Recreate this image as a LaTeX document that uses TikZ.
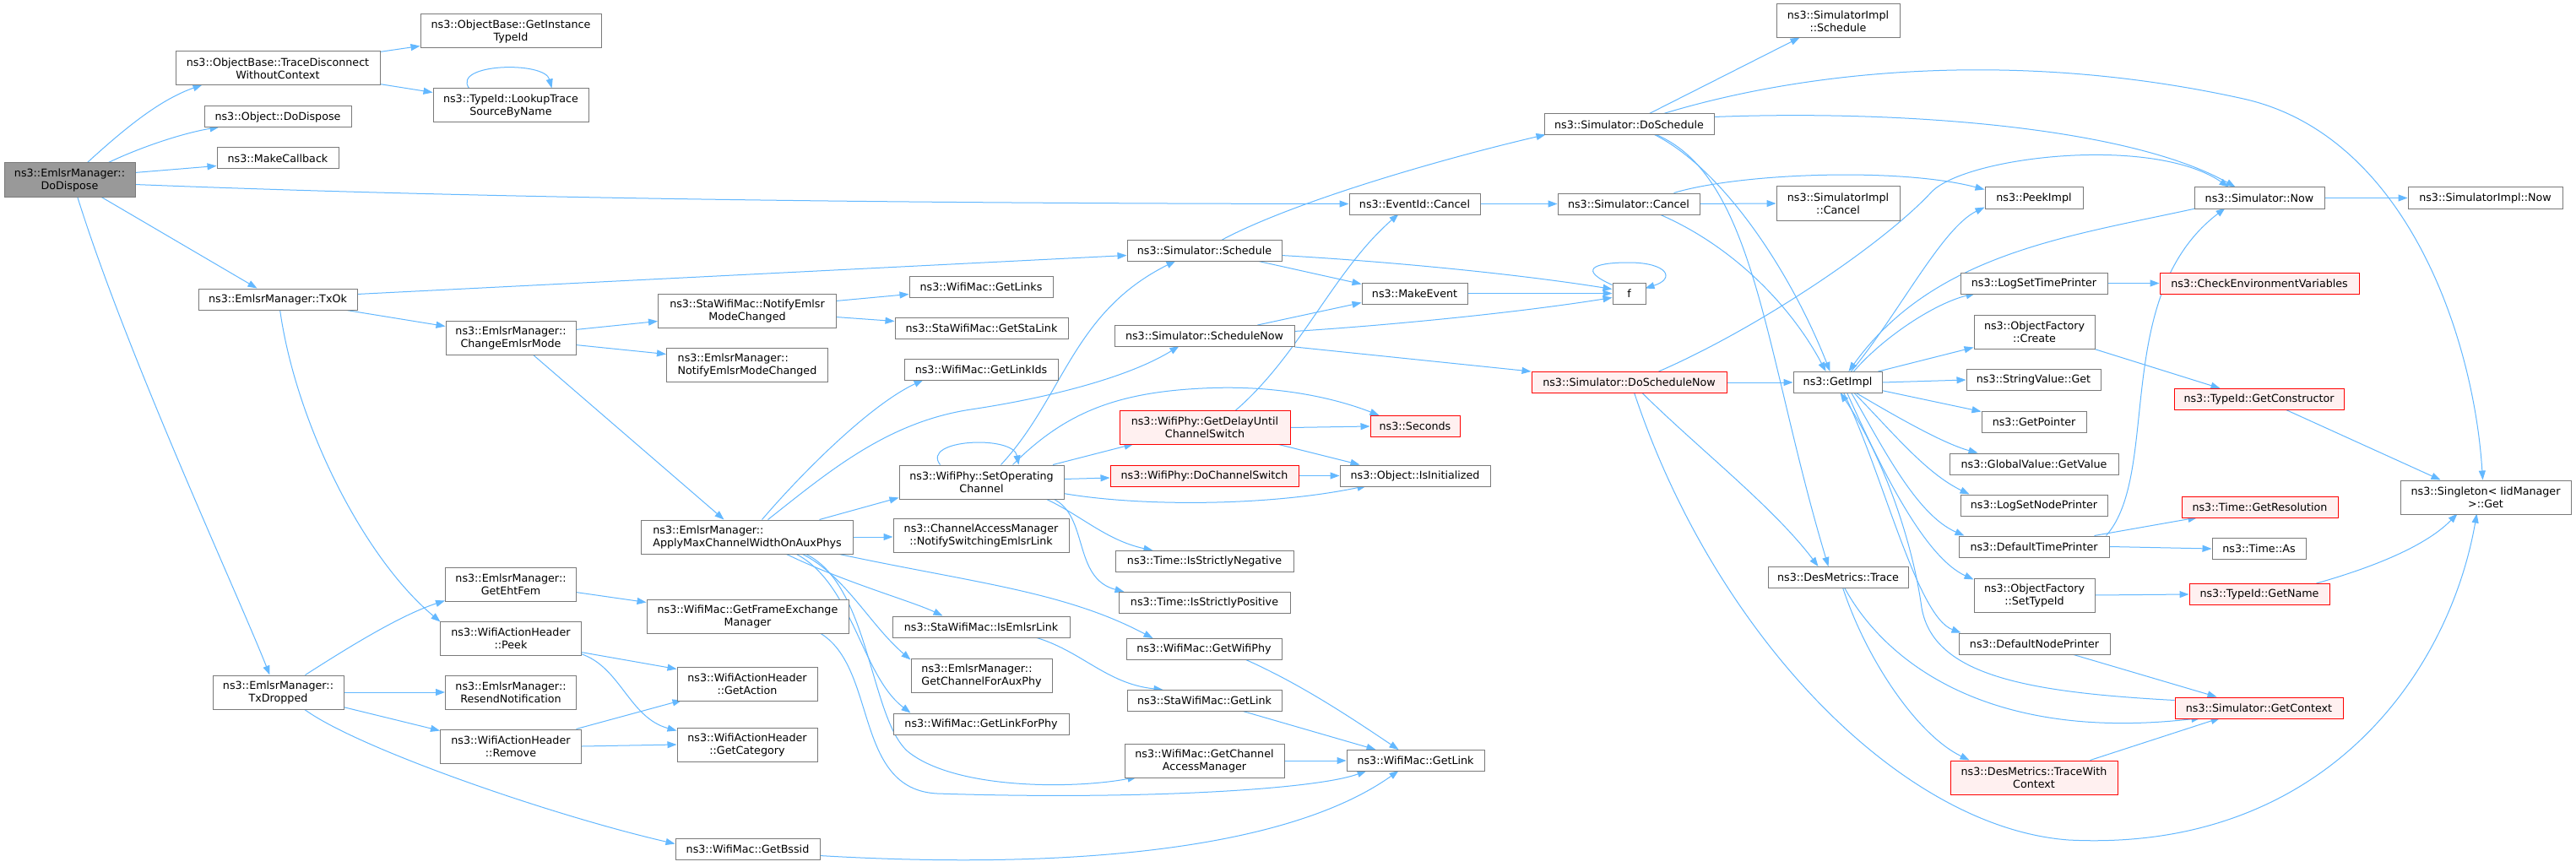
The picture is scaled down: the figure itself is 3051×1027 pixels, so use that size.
\documentclass[tikz,border=0pt]{standalone}
\usepackage{fontspec}
\setmainfont{DejaVu Sans}
\usetikzlibrary{arrows.meta,calc}
\definecolor{edgec}{HTML}{63B8FF}
\definecolor{bordc}{HTML}{7A7A7A}
\definecolor{redfill}{HTML}{FFF0F0}
\definecolor{grayfill}{HTML}{999999}
\pgfdeclarelayer{bg}
\pgfsetlayers{bg,main}
\begin{document}
\begin{tikzpicture}[x=1pt,y=-1pt,
  nb/.style={draw=bordc, line width=1pt, fill=white, inner sep=0pt, font=\fontsize{12.7}{15}\selectfont, align=center},
  nr/.style={nb, draw=red, fill=redfill},
  ng/.style={nb, fill=grayfill},
  wh/.style 2 args={minimum width=#1pt, minimum height=#2pt},
  e/.style={draw=edgec, line width=1pt, -{Triangle[length=11pt,width=8pt]}}]
\useasboundingbox (0,0) rectangle (3051,1027);
% column 0
\node[ng,wh={155}{40}] (dd) at (82.5,213) {ns3::EmlsrManager::\\DoDispose};
% column 1
\node[nb,wh={242}{40}] (tdw) at (329,81) {ns3::ObjectBase::TraceDisconnect\\WithoutContext};
\node[nb,wh={174}{25}] (odd) at (329,138.5) {ns3::Object::DoDispose};
\node[nb,wh={144}{25}] (mcb) at (329,187.5) {ns3::MakeCallback};
\node[nb,wh={188}{25}] (txok) at (329,354.5) {ns3::EmlsrManager::TxOk};
\node[nb,wh={155}{40}] (txd) at (329.5,820) {ns3::EmlsrManager::\\TxDropped};
% column 2
\node[nb,wh={214}{40}] (git) at (605,37) {ns3::ObjectBase::GetInstance\\TypeId};
\node[nb,wh={184}{40}] (ltn) at (605,125) {ns3::TypeId::LookupTrace\\SourceByName};
\node[nb,wh={154}{40}] (cem) at (605,400) {ns3::EmlsrManager::\\ChangeEmlsrMode};
\node[nb,wh={155}{40}] (geh) at (605,692) {ns3::EmlsrManager::\\GetEhtFem};
\node[nb,wh={167}{40}] (peek) at (605,756) {ns3::WifiActionHeader\\::Peek};
\node[nb,wh={155}{40}] (rsn) at (605,820) {ns3::EmlsrManager::\\ResendNotification};
\node[nb,wh={167}{40}] (rem) at (605,884) {ns3::WifiActionHeader\\::Remove};
% column 3
\node[nb,wh={211}{40}] (snm) at (885,368) {ns3::StaWifiMac::NotifyEmlsr\\ModeChanged};
\node[nb,wh={191}{40},align=left] (enm) at (885,432) {ns3::EmlsrManager::\\NotifyEmlsrModeChanged};
\node[nb,wh={251}{40},align=left] (amc) at (885,636) {ns3::EmlsrManager::\\ApplyMaxChannelWidthOnAuxPhys};
\node[nb,wh={239}{40}] (gfx) at (885.5,730) {ns3::WifiMac::GetFrameExchange\\Manager};
\node[nb,wh={166}{40}] (gac) at (885,810) {ns3::WifiActionHeader\\::GetAction};
\node[nb,wh={166}{40}] (gcat) at (885,882) {ns3::WifiActionHeader\\::GetCategory};
\node[nb,wh={171}{25}] (gbs) at (885.5,1005.5) {ns3::WifiMac::GetBssid};
% column 4
\node[nb,wh={170}{25}] (gls) at (1162,339.5) {ns3::WifiMac::GetLinks};
\node[nb,wh={205}{25}] (gsl) at (1162.5,389) {ns3::StaWifiMac::GetStaLink};
\node[nb,wh={182}{25}] (gli) at (1162,438) {ns3::WifiMac::GetLinkIds};
\node[nb,wh={195}{40}] (soc) at (1162.5,571) {ns3::WifiPhy::SetOperating\\Channel};
\node[nb,wh={208}{40}] (nse) at (1162,634.5) {ns3::ChannelAccessManager\\::NotifySwitchingEmlsrLink};
\node[nb,wh={210}{25}] (iel) at (1162,742.5) {ns3::StaWifiMac::IsEmlsrLink};
\node[nb,wh={167}{40},align=left] (gca) at (1162.5,800) {ns3::EmlsrManager::\\GetChannelForAuxPhy};
\node[nb,wh={208}{25}] (glp) at (1162,857.5) {ns3::WifiMac::GetLinkForPhy};
% column 5
\node[nb,wh={183}{25}] (ssch) at (1426.5,297) {ns3::Simulator::Schedule};
\node[nb,wh={213}{25}] (ssn) at (1426.5,398) {ns3::Simulator::ScheduleNow};
\node[nr,wh={202}{40}] (gdc) at (1427,506.5) {ns3::WifiPhy::GetDelayUntil\\ChannelSwitch};
\node[nr,wh={223}{25}] (dcs) at (1426.5,563.5) {ns3::WifiPhy::DoChannelSwitch};
\node[nb,wh={211}{25}] (isn) at (1426.5,665) {ns3::Time::IsStrictlyNegative};
\node[nb,wh={203}{25}] (isp) at (1426.5,714) {ns3::Time::IsStrictlyPositive};
\node[nb,wh={184}{25}] (gwp) at (1426,769) {ns3::WifiMac::GetWifiPhy};
\node[nb,wh={183}{25}] (sgl) at (1426.5,830) {ns3::StaWifiMac::GetLink};
\node[nb,wh={189}{40}] (gcm) at (1426.5,901) {ns3::WifiMac::GetChannel\\AccessManager};
% column 6
\node[nb,wh={155}{25}] (eic) at (1675.5,241.5) {ns3::EventId::Cancel};
\node[nb,wh={125}{25}] (mev) at (1675.5,347.5) {ns3::MakeEvent};
\node[nr,wh={106}{25}] (sec) at (1676,505) {ns3::Seconds};
\node[nb,wh={178}{25}] (oii) at (1676,563.5) {ns3::Object::IsInitialized};
\node[nb,wh={163}{25}] (wgl) at (1676.5,901) {ns3::WifiMac::GetLink};
% column 7
\node[nb,wh={201}{25}] (dsc) at (1929.5,147.5) {ns3::Simulator::DoSchedule};
\node[nb,wh={168}{25}] (scn) at (1929,241.5) {ns3::Simulator::Cancel};
\node[nb,wh={39}{25}] (ff) at (1929.5,347.5) {f};
\node[nr,wh={231}{25}] (dsn) at (1929.5,453) {ns3::Simulator::DoScheduleNow};
% column 8
\node[nb,wh={146}{40}] (sis) at (2177,25) {ns3::SimulatorImpl\\::Schedule};
\node[nb,wh={146}{40}] (sic) at (2177,241) {ns3::SimulatorImpl\\::Cancel};
\node[nb,wh={105}{25}] (gim) at (2176.5,453) {ns3::GetImpl};
\node[nb,wh={166}{25}] (dmt) at (2177,684) {ns3::DesMetrics::Trace};
% column 9
\node[nb,wh={116}{25}] (pki) at (2409,234.5) {ns3::PeekImpl};
\node[nb,wh={174}{25}] (lst) at (2409,335.5) {ns3::LogSetTimePrinter};
\node[nb,wh={143}{40}] (ofc) at (2409.5,393) {ns3::ObjectFactory\\::Create};
\node[nb,wh={159}{25}] (svg) at (2408.5,450) {ns3::StringValue::Get};
\node[nb,wh={124}{25}] (gpt) at (2409,499.5) {ns3::GetPointer};
\node[nb,wh={200}{25}] (ggv) at (2409,549.5) {ns3::GlobalValue::GetValue};
\node[nb,wh={174}{25}] (lsn) at (2409,598.5) {ns3::LogSetNodePrinter};
\node[nb,wh={178}{25}] (dtp) at (2409,647.5) {ns3::DefaultTimePrinter};
\node[nb,wh={143}{40}] (ost) at (2409.5,705) {ns3::ObjectFactory\\::SetTypeId};
\node[nb,wh={179}{25}] (dnp) at (2409.5,762.5) {ns3::DefaultNodePrinter};
\node[nr,wh={198}{40}] (twc) at (2409,921) {ns3::DesMetrics::TraceWith\\Context};
% column 10
\node[nb,wh={154}{25}] (snw) at (2676,234.5) {ns3::Simulator::Now};
\node[nr,wh={236}{25}] (cev) at (2676,335.5) {ns3::CheckEnvironmentVariables};
\node[nr,wh={201}{25}] (gcn) at (2675.5,473) {ns3::TypeId::GetConstructor};
\node[nr,wh={185}{25}] (grs) at (2676.5,601) {ns3::Time::GetResolution};
\node[nb,wh={111}{25}] (tas) at (2675.5,650) {ns3::Time::As};
\node[nr,wh={166}{25}] (gnm) at (2676,704) {ns3::TypeId::GetName};
\node[nr,wh={199}{25}] (gctx) at (2675.5,838.5) {ns3::Simulator::GetContext};
% column 11
\node[nb,wh={183}{25}] (sin) at (2943.5,234.5) {ns3::SimulatorImpl::Now};
\node[nb,wh={202}{40}] (sgt) at (2944,589) {ns3::Singleton< IidManager\\>::Get};

\begin{pgfonlayer}{bg}
\fill[white] (0,0) rectangle (3051,1027);
\draw[e] ($(dd.north west)+(99,0)$) .. controls (150,150) and (190,118) .. ($(tdw.north west)+(32,40)$);
\draw[e] ($(dd.north west)+(124,0)$) .. controls (165,175) and (215,158) .. ($(odd.north west)+(18,25)$);
\draw[e] ($(dd.north west)+(155,12)$) -- ($(mcb.north west)+(0,22)$);
\draw[e] ($(dd.north west)+(155,26)$) .. controls (600,236) and (1100,241) .. (eic.west);
\draw[e] ($(dd.north west)+(114,40)$) -- ($(txok.north west)+(70,0)$);
\draw[e] ($(dd.north west)+(87,40)$) .. controls (150,420) and (280,700) .. ($(txd.north west)+(68,0)$);
\draw[e] ($(tdw.north west)+(242,1)$) -- ($(git.north west)+(0,38)$);
\draw[e] ($(tdw.north west)+(242,39)$) -- ($(ltn.north west)+(0,5)$);
\draw[e] ($(ltn.north west)+(43,0)$) .. controls (535,75) and (645,72) .. ($(ltn.north west)+(141,0)$);
\draw[e] ($(txok.north west)+(188,7)$) -- ($(ssch.north west)+(0,18.5)$);
\draw[e] ($(txok.north west)+(170,25)$) -- ($(cem.north west)+(0,7)$);
\draw[e] ($(txok.north west)+(97,25)$) .. controls (350,500) and (430,660) .. ($(peek.north west)+(0.5,1)$);
\draw[e] ($(txd.north west)+(110,0)$) .. controls (400,775) and (470,730) .. ($(geh.north west)+(0,40)$);
\draw[e] (txd.east) -- (rsn.west);
\draw[e] ($(txd.north west)+(155,38)$) -- ($(rem.north west)+(0,2)$);
\draw[e] ($(txd.north west)+(108,40)$) .. controls (420,885) and (650,965) .. ($(gbs.north west)+(0,7)$);
\draw[e] ($(cem.north west)+(154,11)$) -- ($(snm.north west)+(0,33)$);
\draw[e] ($(cem.north west)+(154,29)$) -- ($(enm.north west)+(0,8)$);
\draw[e] ($(cem.north west)+(103,40)$) -- ($(amc.north west)+(98.5,0)$);
\draw[e] ($(snm.north west)+(211,9)$) -- ($(gls.north west)+(0,22)$);
\draw[e] ($(snm.north west)+(211,28)$) -- ($(gsl.north west)+(0,4.5)$);
\draw[e] ($(geh.north west)+(155,30)$) -- ($(gfx.north west)+(0,4)$);
\draw[e] ($(peek.north west)+(167,37)$) -- ($(gac.north west)+(0,3)$);
\draw[e] ($(peek.north west)+(167,39)$) .. controls (735,790) and (745,850) .. ($(gcat.north west)+(0,4)$);
\draw[e] ($(rem.north west)+(161.5,0)$) -- ($(gac.north west)+(6,40)$);
\draw[e] (rem.east) -- (gcat.west);
\draw[e] ($(gfx.north west)+(205,40)$) .. controls (1040,790) and (1010,935) .. (1110,940) .. controls (1350,948) and (1560,935) .. ($(wgl.north west)+(24,25)$);
\draw[e] ($(amc.north west)+(193.5,40)$) .. controls (1030,690) and (1030,850) .. (1075,890) .. controls (1130,935) and (1270,935) .. ($(gcm.north west)+(15,40)$);
\draw[e] ($(amc.north west)+(143.5,0)$) .. controls (950,560) and (1030,480) .. ($(gli.north west)+(23,25)$);
\draw[e] ($(amc.north west)+(150.5,0)$) .. controls (980,560) and (1050,500) .. (1150,485) .. controls (1250,470) and (1340,445) .. ($(ssn.north west)+(77,25)$);
\draw[e] ($(amc.north west)+(211.5,0)$) -- ($(soc.north west)+(0,39)$);
\draw[e] (amc.east) -- (amc.east -| nse.west);
\draw[e] ($(amc.north west)+(230.5,40)$) .. controls (1150,690) and (1260,700) .. ($(gwp.north west)+(32,0)$);
\draw[e] ($(amc.north west)+(170.5,40)$) .. controls (1000,690) and (1080,712) .. ($(iel.north west)+(60,0)$);
\draw[e] ($(amc.north west)+(189.5,40)$) .. controls (1000,680) and (1030,740) .. ($(gca.north west)+(0,2)$);
\draw[e] ($(amc.north west)+(182.5,40)$) .. controls (1010,690) and (1020,800) .. ($(glp.north west)+(21,0)$);
\draw[e] ($(soc.north west)+(49,0)$) .. controls (1090,520) and (1200,515) .. ($(soc.north west)+(142,0)$);
\draw[e] ($(soc.north west)+(121,0)$) .. controls (1260,470) and (1270,370) .. ($(ssch.north west)+(58,25)$);
\draw[e] ($(soc.north west)+(135,0)$) .. controls (1260,490) and (1320,465) .. (1424,460) .. controls (1520,455) and (1590,475) .. ($(sec.north west)+(11,0)$);
\draw[e] ($(soc.north west)+(182.5,0)$) -- ($(gdc.north west)+(17,40)$);
\draw[e] ($(soc.north west)+(195,17)$) -- ($(dcs.north west)+(0,15.5)$);
\draw[e] ($(soc.north west)+(195,34)$) .. controls (1350,600) and (1500,600) .. ($(oii.north west)+(32,25)$);
\draw[e] ($(soc.north west)+(173,40)$) .. controls (1280,610) and (1310,640) .. ($(isn.north west)+(45,0)$);
\draw[e] ($(soc.north west)+(182,40)$) .. controls (1290,610) and (1270,685) .. ($(isp.north west)+(7,0)$);
\draw[e] (gdc.east) -- (sec.west);
\draw[e] ($(gdc.north west)+(138,0)$) .. controls (1540,420) and (1580,320) .. ($(eic.north west)+(59,25)$);
\draw[e] ($(gdc.north west)+(187,40)$) -- ($(oii.north west)+(24,0)$);
\draw[e] (dcs.east) -- (oii.west);
\draw[e] ($(iel.north west)+(168,25)$) .. controls (1280,770) and (1310,810) .. ($(sgl.north west)+(43,0)$);
\draw[e] ($(gwp.north west)+(141,25)$) .. controls (1540,810) and (1600,850) .. ($(wgl.north west)+(62,0)$);
\draw[e] ($(sgl.north west)+(136,25)$) -- ($(wgl.north west)+(35,0)$);
\draw[e] (gcm.east) -- (wgl.west);
\draw[e] ($(gbs.north west)+(171,21)$) .. controls (1250,1030) and (1520,1010) .. ($(wgl.north west)+(62,25)$);
\draw[e] ($(ssch.north west)+(113,0)$) .. controls (1530,240) and (1700,190) .. ($(dsc.north west)+(2,25)$);
\draw[e] ($(ssch.north west)+(154,25)$) -- ($(mev.north west)+(0,2)$);
\draw[e] ($(ssch.north west)+(183,18.5)$) .. controls (1650,310) and (1800,325) .. ($(ff.north west)+(0,8)$);
\draw[e] ($(ssn.north west)+(170,0)$) -- ($(mev.north west)+(0,24)$);
\draw[e] ($(ssn.north west)+(213,7.5)$) .. controls (1650,385) and (1800,370) .. ($(ff.north west)+(0,18)$);
\draw[e] (ssn.south east) -- (dsn.north west);
\draw[e] (mev.east) -- (ff.west);
\draw[e] ($(ff.north west)+(0,3)$) .. controls (1870,320) and (1885,311) .. (1929,311) .. controls (1975,311) and (1985,330) .. ($(ff.north west)+(39,7)$);
\draw[e] (eic.east) -- (scn.west);
\draw[e] (scn.east) -- (sic.west);
\draw[e] ($(scn.north west)+(138,0)$) .. controls (2060,205) and (2250,198) .. ($(pki.north west)+(0,3)$);
\draw[e] ($(scn.north west)+(120,25)$) .. controls (2050,290) and (2120,360) .. ($(gim.north west)+(39,0)$);
\draw[e] ($(dsc.north west)+(125,0)$) -- ($(sis.north west)+(28,40)$);
\draw[e] ($(dsc.north west)+(142,0)$) .. controls (2150,80) and (2400,60) .. (2657,117) .. controls (2850,160) and (2930,400) .. ($(sgt.north west)+(98,0)$);
\draw[e] ($(dsc.north west)+(201,4)$) .. controls (2250,130) and (2520,150) .. ($(snw.north west)+(49,0)$);
\draw[e] ($(dsc.north west)+(131,25)$) .. controls (2040,200) and (2120,320) .. ($(gim.north west)+(44,0)$);
\draw[e] ($(dsc.north west)+(133,25)$) .. controls (2080,210) and (2090,420) .. ($(dmt.north west)+(72,0)$);
\draw[e] (dsn.east) -- (gim.west);
\draw[e] ($(dsn.north west)+(151,0)$) .. controls (2080,390) and (2230,290) .. (2288,227) .. controls (2330,185) and (2550,160) .. ($(snw.north west)+(41,0)$);
\draw[e] ($(dsn.north west)+(131,25)$) .. controls (2010,530) and (2100,600) .. ($(dmt.north west)+(60,0)$);
\draw[e] ($(dsn.north west)+(122,25)$) .. controls (2030,750) and (2250,980) .. (2450,995) .. controls (2750,1010) and (2900,800) .. ($(sgt.north west)+(91,40)$);
\draw[e] ($(gim.north west)+(69,0)$) .. controls (2250,370) and (2300,270) .. ($(pki.north west)+(0,24)$);
\draw[e] ($(snw.north west)+(4,25)$) .. controls (2450,280) and (2290,300) .. ($(gim.north west)+(66,0)$);
\draw[e] ($(gim.north west)+(72,0)$) .. controls (2230,400) and (2290,360) .. ($(lst.north west)+(18,25)$);
\draw[e] ($(gim.north west)+(101,0)$) -- ($(ofc.north west)+(0,39)$);
\draw[e] (gim.east) -- (svg.west);
\draw[e] ($(gim.north west)+(105,22.5)$) -- ($(gpt.north west)+(0,1)$);
\draw[e] ($(gim.north west)+(74,25)$) .. controls (2240,490) and (2300,525) .. ($(ggv.north west)+(34,0)$);
\draw[e] ($(gim.north west)+(72,25)$) .. controls (2240,510) and (2280,560) .. ($(lsn.north west)+(11,0)$);
\draw[e] ($(gim.north west)+(69,25)$) .. controls (2230,530) and (2270,610) .. ($(dtp.north west)+(7,0)$);
\draw[e] ($(gim.north west)+(64,25)$) .. controls (2230,560) and (2280,660) .. ($(ost.north west)+(0,2)$);
\draw[e] ($(gim.north west)+(60,25)$) .. controls (2230,560) and (2270,730) .. ($(dnp.north west)+(3,0)$);
\draw[e] ($(gctx.north west)+(0,4)$) .. controls (2400,820) and (2290,800) .. (2276,720) .. controls (2265,640) and (2230,540) .. ($(gim.north west)+(56,25)$);
\draw[e] ($(dmt.north west)+(91,25)$) .. controls (2230,780) and (2350,880) .. ($(gctx.north west)+(31,25)$);
\draw[e] ($(dmt.north west)+(89,25)$) .. controls (2210,780) and (2270,870) .. ($(twc.north west)+(23,0)$);
\draw[e] ($(twc.north west)+(166,0)$) -- ($(gctx.north west)+(54,25)$);
\draw[e] ($(dnp.north west)+(133,25)$) -- ($(gctx.north west)+(50,0)$);
\draw[e] (lst.east) -- (cev.west);
\draw[e] ($(ofc.north west)+(140,40)$) -- ($(gcn.north west)+(55,0)$);
\draw[e] ($(gcn.north west)+(132,25)$) -- ($(sgt.north west)+(48,0)$);
\draw[e] ($(dtp.north west)+(161,0)$) -- ($(grs.north west)+(19,25)$);
\draw[e] (dtp.east) -- (tas.west);
\draw[e] ($(dtp.north west)+(175,0)$) .. controls (2560,560) and (2500,350) .. ($(snw.north west)+(37,25)$);
\draw[e] (ost.east) -- (gnm.west);
\draw[e] ($(gnm.north west)+(151,0)$) .. controls (2800,675) and (2870,650) .. ($(sgt.north west)+(68,40)$);
\draw[e] (snw.east) -- (sin.west);
\end{pgfonlayer}
\end{tikzpicture}
\end{document}
